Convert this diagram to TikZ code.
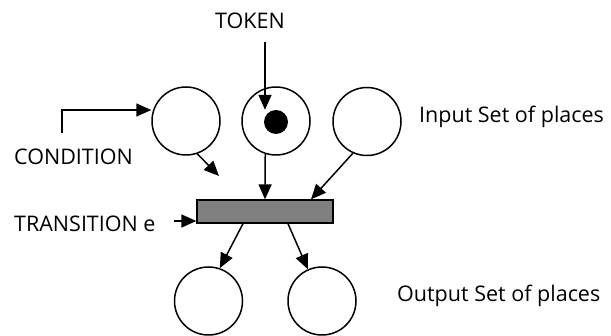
\documentclass[tikz,border=0pt]{standalone}
\usepackage{fontspec}
\setmainfont{Open Sans}
\usetikzlibrary{arrows.meta}
\begin{document}
\begin{tikzpicture}[x=1pt,y=-1pt,
  place/.style={circle,draw,line width=1.5pt,minimum size=68pt,inner sep=0pt},
  tokendot/.style={circle,fill=black,minimum size=24pt,inner sep=0pt},
  trans/.style={rectangle,draw,line width=1.3pt,fill=gray,minimum width=136pt,minimum height=23pt,inner sep=0pt},
  lbl/.style={font=\fontsize{21.5}{24}\selectfont,inner sep=0pt,text height=15.4pt,text depth=0pt},
  arr/.style={-{Triangle[length=15pt,width=13pt]},line width=1.5pt}]
\useasboundingbox (0,0) rectangle (611,336);
% input places
\node[place] (p1) at (186,121) {};
\node[place] (p2) at (276,121) {};
\node[place] (p3) at (367,121.5) {};
\node[tokendot] (dot) at (276,122) {};
% transition
\node[trans] (t) at (265,211.5) {};
% output places
\node[place] (o1) at (208.5,301) {};
\node[place] (o2) at (322,301) {};
% labels
\node[lbl] (ltoken) at (250,20.5) {TOKEN};
\node[lbl,anchor=west] (lcond) at (14,157) {CONDITION};
\node[lbl,anchor=west] (ltrans) at (14,223.5) {TRANSITION e};
\node[lbl,anchor=west] (lin) at (419,115) {Input Set of places};
\node[lbl,anchor=west] (lout) at (397,294) {Output Set of places};
% free ends
\coordinate (tokstart) at (265,42);
\coordinate (condstart) at (62,133);
\coordinate (condbend) at (62,110);
\coordinate (p1end) at (219,176);
\coordinate (transstart) at (174,221);
% connectors
\draw[arr] (tokstart) -- (dot.north -| tokstart);
\draw[arr] (condstart) -- (condbend) -- (p1.west |- condbend);
\draw[arr] (p1.-71) -- (p1end);
\draw[arr] (p2.-108) -- (t.north);
\draw[arr] (p3.-114) -- ([xshift=46pt]t.north);
\draw[arr] (transstart) -- (t.south west |- transstart);
\draw[arr] ([xshift=-22pt]t.south) -- (o1.71);
\draw[arr] ([xshift=23pt]t.south) -- (o2.114);
\end{tikzpicture}
\end{document}
